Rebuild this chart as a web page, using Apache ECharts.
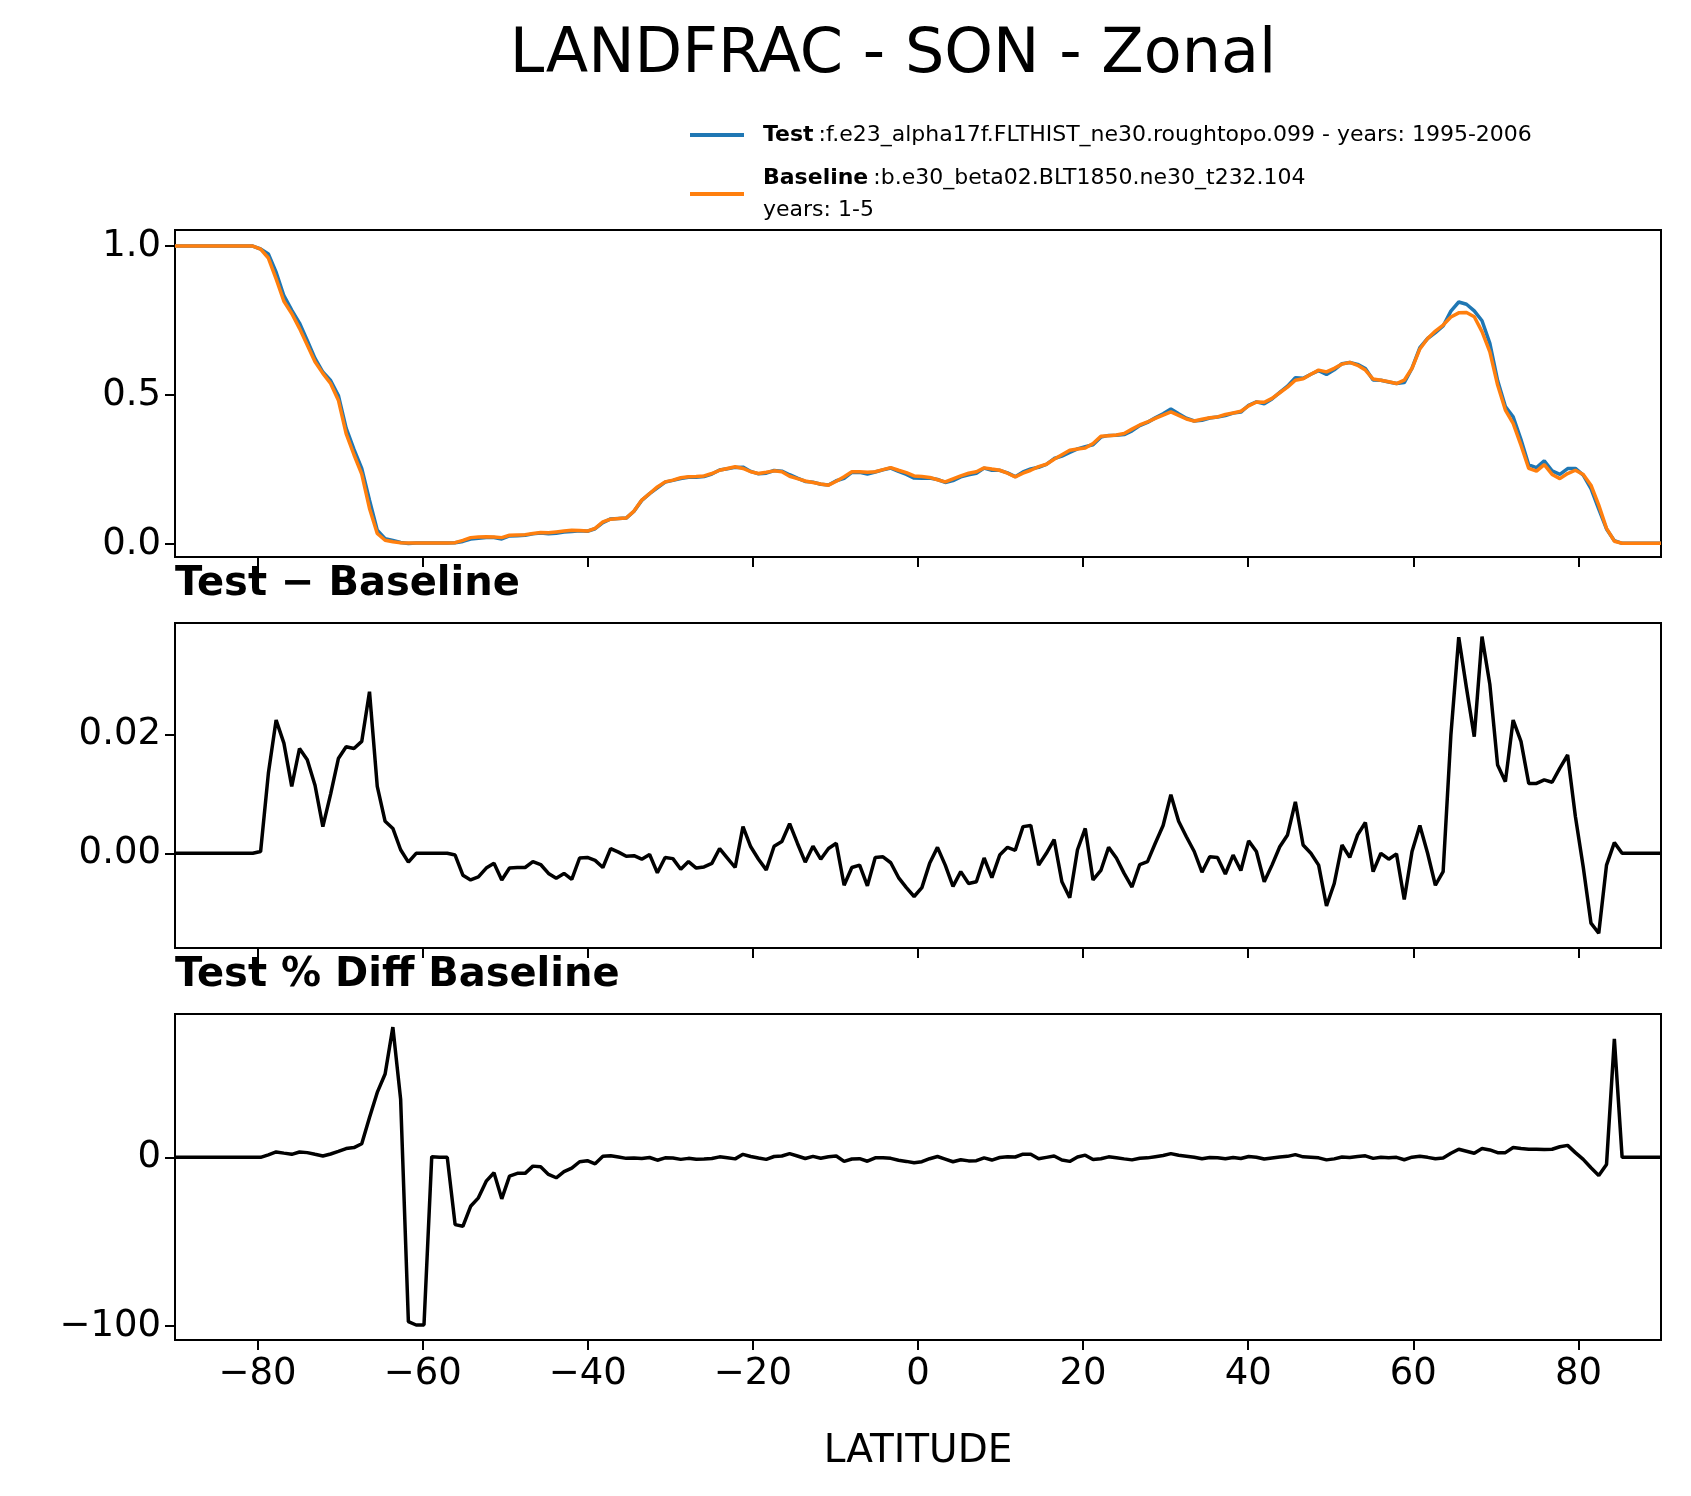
<!DOCTYPE html>
<html lang="en">
<head>
  <meta charset="UTF-8">
  <title>LANDFRAC - SON - Zonal</title>
  <script src="https://cdn.jsdelivr.net/npm/echarts@6/dist/echarts.min.js"></script>
  <style>
    html, body { margin: 0; padding: 0; background: #fff; }
    #main { width: 1691px; height: 1496px; }
  </style>
</head>
<body>
<div id="main"></div>
<script>
  // latitude grid (192 points)
  var lat = [-90.00, -89.06, -88.12, -87.17, -86.23, -85.29, -84.35, -83.40, -82.46, -81.52,
    -80.58, -79.63, -78.69, -77.75, -76.81, -75.86, -74.92, -73.98, -73.04, -72.09,
    -71.15, -70.21, -69.27, -68.32, -67.38, -66.44, -65.50, -64.55, -63.61, -62.67,
    -61.73, -60.79, -59.84, -58.90, -57.96, -57.02, -56.07, -55.13, -54.19, -53.25,
    -52.30, -51.36, -50.42, -49.48, -48.53, -47.59, -46.65, -45.71, -44.76, -43.82,
    -42.88, -41.94, -40.99, -40.05, -39.11, -38.17, -37.23, -36.28, -35.34, -34.40,
    -33.46, -32.51, -31.57, -30.63, -29.69, -28.74, -27.80, -26.86, -25.92, -24.97,
    -24.03, -23.09, -22.15, -21.20, -20.26, -19.32, -18.38, -17.43, -16.49, -15.55,
    -14.61, -13.66, -12.72, -11.78, -10.84, -9.90, -8.95, -8.01, -7.07, -6.13,
    -5.18, -4.24, -3.30, -2.36, -1.41, -0.47, 0.47, 1.41, 2.36, 3.30,
    4.24, 5.18, 6.13, 7.07, 8.01, 8.95, 9.90, 10.84, 11.78, 12.72,
    13.66, 14.61, 15.55, 16.49, 17.43, 18.38, 19.32, 20.26, 21.20, 22.15,
    23.09, 24.03, 24.97, 25.92, 26.86, 27.80, 28.74, 29.69, 30.63, 31.57,
    32.51, 33.46, 34.40, 35.34, 36.28, 37.23, 38.17, 39.11, 40.05, 40.99,
    41.94, 42.88, 43.82, 44.76, 45.71, 46.65, 47.59, 48.53, 49.48, 50.42,
    51.36, 52.30, 53.25, 54.19, 55.13, 56.07, 57.02, 57.96, 58.90, 59.84,
    60.79, 61.73, 62.67, 63.61, 64.55, 65.50, 66.44, 67.38, 68.32, 69.27,
    70.21, 71.15, 72.09, 73.04, 73.98, 74.92, 75.86, 76.81, 77.75, 78.69,
    79.63, 80.58, 81.52, 82.46, 83.40, 84.35, 85.29, 86.23, 87.17, 88.12,
    89.06, 90.00];

  // baseline LANDFRAC
  var baseline = [1, 1, 1, 1, 1, 1, 1, 1, 1, 1,
    1, 0.99, 0.96, 0.89, 0.815, 0.774, 0.724, 0.668, 0.612, 0.573,
    0.539, 0.483, 0.371, 0.30, 0.235, 0.12, 0.036, 0.013, 0.008, 0.005,
    0.004, 0.004, 0.004, 0.004, 0.004, 0.004, 0.005, 0.013, 0.022, 0.024,
    0.025, 0.024, 0.022, 0.03, 0.031, 0.032, 0.036, 0.039, 0.038, 0.041,
    0.044, 0.047, 0.046, 0.044, 0.053, 0.075, 0.084, 0.086, 0.088, 0.111,
    0.148, 0.17, 0.192, 0.209, 0.215, 0.223, 0.226, 0.227, 0.229, 0.237,
    0.248, 0.254, 0.26, 0.254, 0.243, 0.237, 0.241, 0.246, 0.243, 0.228,
    0.22, 0.212, 0.207, 0.202, 0.198, 0.211, 0.226, 0.243, 0.243, 0.241,
    0.243, 0.25, 0.257, 0.248, 0.24, 0.229, 0.227, 0.224, 0.216, 0.209,
    0.219, 0.229, 0.238, 0.243, 0.256, 0.252, 0.248, 0.238, 0.226, 0.238,
    0.248, 0.26, 0.268, 0.285, 0.30, 0.315, 0.319, 0.323, 0.338, 0.362,
    0.364, 0.366, 0.371, 0.386, 0.40, 0.41, 0.422, 0.433, 0.444, 0.432,
    0.42, 0.413, 0.419, 0.424, 0.427, 0.435, 0.44, 0.446, 0.464, 0.477,
    0.476, 0.489, 0.508, 0.527, 0.55, 0.555, 0.57, 0.584, 0.578, 0.59,
    0.604, 0.61, 0.60, 0.584, 0.554, 0.55, 0.545, 0.539, 0.55, 0.59,
    0.655, 0.69, 0.715, 0.735, 0.762, 0.776, 0.777, 0.763, 0.713, 0.645,
    0.534, 0.45, 0.405, 0.332, 0.254, 0.245, 0.267, 0.234, 0.22, 0.237,
    0.248, 0.234, 0.198, 0.131, 0.053, 0.01, 0.003, 0.003, 0.003, 0.003,
    0.003, 0.003];

  // Test - Baseline
  var diff = [0, 0, 0, 0, 0, 0, 0, 0, 0, 0,
    0, 0.0003, 0.0135, 0.0225, 0.0186, 0.0113, 0.0177, 0.0158, 0.0115, 0.0045,
    0.010, 0.016, 0.018, 0.0177, 0.0189, 0.0273, 0.0113, 0.0054, 0.0042, 0.0006,
    -0.0015, 0, 0, 0, 0, 0, -0.0003, -0.0037, -0.0045, -0.004,
    -0.0025, -0.0017, -0.0045, -0.0025, -0.0024, -0.0024, -0.0014, -0.0019, -0.0034, -0.0042,
    -0.0034, -0.0044, -0.0008, -0.0007, -0.0012, -0.0024, 0.0008, 0.0002, -0.0005, -0.0004,
    -0.001, -0.0002, -0.0033, -0.0007, -0.0009, -0.0027, -0.0014, -0.0025, -0.0023, -0.0017,
    0.0008, -0.0008, -0.0024, 0.0045, 0.0011, -0.001, -0.0028, 0.0012, 0.002, 0.005,
    0.0017, -0.0015, 0.0012, -0.001, 0.0008, 0.0017, -0.0054, -0.0024, -0.002, -0.0055,
    -0.0007, -0.0006, -0.0016, -0.0041, -0.0058, -0.0073, -0.0058, -0.0017, 0.001, -0.002,
    -0.0056, -0.0031, -0.0051, -0.0048, -0.0008, -0.0041, -0.0003, 0.001, 0.0005, 0.0045,
    0.0047, -0.002, 0, 0.0023, -0.0048, -0.0075, 0.0006, 0.0042, -0.0045, -0.0029,
    0.001, -0.0008, -0.0034, -0.0057, -0.0019, -0.0014, 0.0017, 0.0047, 0.0099, 0.0054,
    0.0028, 0.0003, -0.0032, -0.0006, -0.0007, -0.0035, -0.0003, -0.0029, 0.0021, 0.0003,
    -0.0048, -0.002, 0.0011, 0.0031, 0.0087, 0.0014, 0, -0.002, -0.0089, -0.0051,
    0.0014, -0.0007, 0.0031, 0.0052, -0.0031, 0, -0.001, -0.0001, -0.0078, 0.0003,
    0.0047, 0, -0.0054, -0.0031, 0.02, 0.0365, 0.0279, 0.0197, 0.0366, 0.0285,
    0.0149, 0.0121, 0.0225, 0.0189, 0.0118, 0.0118, 0.0124, 0.012, 0.0144, 0.0166,
    0.0062, -0.0023, -0.0118, -0.0135, -0.002, 0.0018, 0, 0, 0, 0,
    0, 0];

  // Test % Diff Baseline
  var pctDiff = [0, 0, 0, 0, 0, 0, 0, 0, 0, 0,
    0, 0, 1.5, 3.2, 2.5, 1.8, 3.2, 2.8, 1.8, 0.8,
    2.0, 3.5, 5.2, 5.8, 8.1, 23.6, 38.5, 49.4, 77.2, 34.5,
    -97.4, -99.4, -99.4, 0.4, 0, 0, -39.9, -40.9, -29, -24,
    -14.1, -9.1, -24.6, -11.1, -9.5, -9.5, -5.2, -5.6, -10.1, -12.1,
    -8.5, -6.4, -2.6, -2, -3.8, 0.6, 1.0, 0.2, -0.6, -0.4,
    -0.7, -0.1, -1.7, -0.3, -0.4, -1.2, -0.6, -1.1, -1.0, -0.7,
    0.3, -0.3, -0.9, 1.8, 0.5, -0.4, -1.2, 0.5, 0.8, 2.2,
    0.8, -0.7, 0.6, -0.5, 0.4, 0.8, -2.4, -1.0, -0.8, -2.3,
    -0.3, -0.2, -0.6, -1.7, -2.4, -3.2, -2.6, -0.8, 0.5, -1.0,
    -2.6, -1.4, -2.1, -2.0, -0.3, -1.6, -0.1, 0.4, 0.2, 1.9,
    1.9, -0.8, 0, 0.8, -1.6, -2.4, 0.2, 1.3, -1.3, -0.8,
    0.3, -0.2, -0.9, -1.5, -0.5, -0.3, 0.4, 1.1, 2.2, 1.2,
    0.7, 0.1, -0.8, -0.1, -0.2, -0.8, -0.1, -0.7, 0.5, 0.1,
    -1.0, -0.4, 0.2, 0.6, 1.6, 0.3, 0, -0.3, -1.5, -0.9,
    0.2, -0.1, 0.5, 0.9, -0.6, 0, -0.2, 0, -1.4, 0.1,
    0.7, 0, -0.8, -0.4, 2.4, 4.8, 3.6, 2.4, 5.2, 4.4,
    2.8, 2.8, 5.8, 5.2, 4.8, 4.8, 4.6, 4.8, 6.3, 7.1,
    2.8, -1.2, -6.2, -10.7, -4.2, 70.2, 0, 0, 0, 0,
    0, 0];

  var xTicks = [-80, -60, -40, -20, 0, 20, 40, 60, 80];

  function pairs(ys) {
    return lat.map(function (x, i) { return [x, ys[i]]; });
  }
  var test = baseline.map(function (b, i) { return b + diff[i]; });

  var FONT = 'DejaVu Sans';
  function minus(v) { return String(v).replace('-', '\u2212'); }

  var grids = [
    {left: 175, right: 30, top: 230, height: 327},
    {left: 175, right: 30, top: 623, height: 325},
    {left: 175, right: 30, top: 1014, height: 326}
  ];
  grids.forEach(function (g) { g.show = true; g.borderColor = '#000'; g.borderWidth = 2; g.backgroundColor = 'transparent'; });

  function xAxis(idx, showLabels) {
    return {
      type: 'value', gridIndex: idx, min: -90, max: 90,
      axisLine: {show: true, onZero: false, lineStyle: {color: '#000', width: 2}},
      axisTick: {show: true, length: 10, lineStyle: {color: '#000', width: 2}, customValues: xTicks},
      axisLabel: {show: showLabels, customValues: xTicks, fontFamily: FONT, fontSize: 37, color: '#000', margin: 16, formatter: minus},
      splitLine: {show: false},
      name: showLabels ? 'LATITUDE' : '', nameLocation: 'middle', nameGap: 92,
      nameTextStyle: {fontFamily: FONT, fontSize: 39, color: '#000'}
    };
  }
  function yAxis(idx, min, max, ticks, fmt) {
    return {
      type: 'value', gridIndex: idx, min: min, max: max,
      axisLine: {show: true, onZero: false, lineStyle: {color: '#000', width: 2}},
      axisTick: {show: true, length: 10, lineStyle: {color: '#000', width: 2}, customValues: ticks},
      axisLabel: {customValues: ticks, fontFamily: FONT, fontSize: 37, color: '#000', margin: 14, formatter: fmt},
      splitLine: {show: false}
    };
  }

  var option = {
    animation: false,
    backgroundColor: '#fff',
    grid: grids,
    xAxis: [xAxis(0, false), xAxis(1, false), xAxis(2, true)],
    yAxis: [
      yAxis(0, -0.043, 1.054, [0, 0.5, 1], function (v) { return v.toFixed(1); }),
      yAxis(1, -0.016, 0.0389, [0, 0.02], function (v) { return v.toFixed(2); }),
      yAxis(2, -108.3, 85, [-100, 0], function (v) { return minus(v); })
    ],
    series: [
      {type: 'line', xAxisIndex: 0, yAxisIndex: 0, data: pairs(test), showSymbol: false,
        lineStyle: {color: '#1f77b4', width: 3.5}},
      {type: 'line', xAxisIndex: 0, yAxisIndex: 0, data: pairs(baseline), showSymbol: false,
        lineStyle: {color: '#ff7f0e', width: 3.5}},
      {type: 'line', xAxisIndex: 1, yAxisIndex: 1, data: pairs(diff), showSymbol: false,
        lineStyle: {color: '#000', width: 3.5}},
      {type: 'line', xAxisIndex: 2, yAxisIndex: 2, data: pairs(pctDiff), showSymbol: false,
        lineStyle: {color: '#000', width: 3.5}}
    ],
    graphic: [
      {type: 'text', x: 893, y: 56, style: {text: 'LANDFRAC - SON - Zonal', font: '62px "DejaVu Sans"', fill: '#000', align: 'center', verticalAlign: 'middle'}},
      {type: 'line', shape: {x1: 690, y1: 135, x2: 744, y2: 135}, style: {stroke: '#1f77b4', lineWidth: 4}},
      {type: 'text', x: 763, y: 135, style: {
        text: '{b|Test}{n|:f.e23_alpha17f.FLTHIST_ne30.roughtopo.099 - years: 1995-2006}',
        verticalAlign: 'middle',
        rich: {b: {fontFamily: FONT, fontWeight: 'bold', fontSize: 22, fill: '#000'}, n: {fontFamily: FONT, fontSize: 22, fill: '#000', padding: [0, 0, 0, 5]}}
      }},
      {type: 'line', shape: {x1: 690, y1: 194, x2: 744, y2: 194}, style: {stroke: '#ff7f0e', lineWidth: 4}},
      {type: 'text', x: 763, y: 178, style: {
        text: '{b|Baseline}{n|:b.e30_beta02.BLT1850.ne30_t232.104}',
        verticalAlign: 'middle',
        rich: {b: {fontFamily: FONT, fontWeight: 'bold', fontSize: 22, fill: '#000'}, n: {fontFamily: FONT, fontSize: 22, fill: '#000', padding: [0, 0, 0, 5]}}
      }},
      {type: 'text', x: 763, y: 210, style: {text: 'years: 1-5', font: '22px "DejaVu Sans"', fill: '#000', verticalAlign: 'middle'}},
      {type: 'text', x: 175, y: 585, style: {text: 'Test \u2212 Baseline', font: 'bold 40px "DejaVu Sans"', fill: '#000', verticalAlign: 'middle'}},
      {type: 'text', x: 175, y: 976, style: {text: 'Test % Diff Baseline', font: 'bold 40px "DejaVu Sans"', fill: '#000', verticalAlign: 'middle'}}
    ]
  };

  var myChart = echarts.init(document.getElementById('main'));
  myChart.setOption(option);
</script>
</body>
</html>
